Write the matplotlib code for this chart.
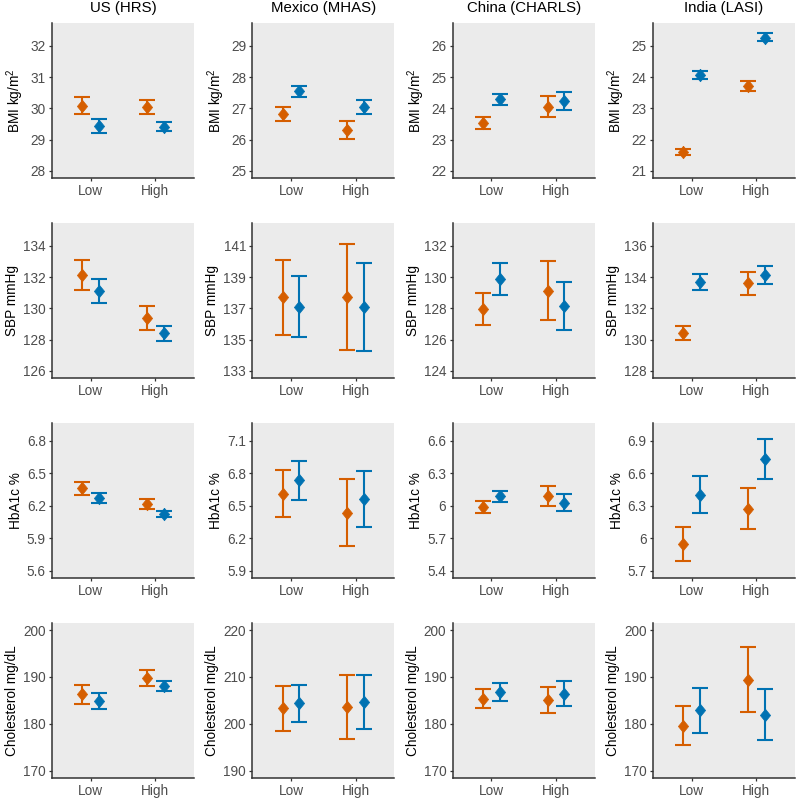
import matplotlib
matplotlib.use("Agg")
import matplotlib.pyplot as plt

plt.rcParams['font.family'] = ['Liberation Sans', 'DejaVu Sans']
plt.rcParams['mathtext.fontset'] = 'custom'
plt.rcParams['mathtext.rm'] = 'Liberation Sans'
plt.rcParams['mathtext.it'] = 'Liberation Sans:italic'

countries = ["US (HRS)", "Mexico (MHAS)", "China (CHARLS)", "India (LASI)"]
groups = ["Low", "High"]
measures = ["BMI kg/m$^2$", "SBP mmHg", "HbA1c %", "Cholesterol mg/dL"]

# y-axis ranges (before 5% padding) and ticks, per measure then country
ylims = [
    [(28, 32.5), (25, 29.5), (22, 26.5), (21, 25.5)],
    [(126, 135), (133, 142), (124, 133), (128, 137)],
    [(5.6, 6.9), (5.9, 7.2), (5.4, 6.7), (5.7, 7.0)],
    [(170, 200), (190, 220), (170, 200), (170, 200)],
]
ystep = [1, 2, 0.3, 10]

# orange series: mean, lower, upper  [country][Low, High]
orange_mean = [
    [[30.07, 30.05], [26.82, 26.31], [23.53, 24.05], [21.60, 23.70]],
    [[132.15, 129.40], [137.70, 137.72], [127.96, 129.13], [130.40, 133.60]],
    [[6.363, 6.218], [6.614, 6.438], [5.988, 6.095], [5.949, 6.275]],
    [[186.3, 189.7], [203.4, 203.6], [185.4, 185.1], [179.6, 189.4]],
]
orange_lo = [
    [[29.81, 29.82], [26.61, 26.02], [23.34, 23.72], [21.50, 23.54]],
    [[131.19, 128.64], [135.32, 134.34], [126.91, 127.28], [129.96, 132.83]],
    [[6.300, 6.172], [6.395, 6.134], [5.932, 6.000], [5.792, 6.085]],
    [[184.3, 188.0], [198.5, 196.7], [183.4, 182.4], [175.6, 182.6]],
]
orange_hi = [
    [[30.35, 30.27], [27.04, 26.60], [23.73, 24.39], [21.70, 23.88]],
    [[133.09, 130.17], [140.09, 141.13], [129.00, 131.00], [130.85, 134.34]],
    [[6.418, 6.265], [6.832, 6.749], [6.043, 6.188], [6.106, 6.466]],
    [[188.4, 191.4], [208.1, 210.4], [187.4, 187.8], [183.8, 196.3]],
]

# blue series
blue_mean = [
    [[29.45, 29.42], [27.55, 27.04], [24.30, 24.23], [24.06, 25.26]],
    [[131.13, 128.40], [137.11, 137.11], [129.87, 128.17], [133.70, 134.11]],
    [[6.270, 6.129], [6.737, 6.562], [6.089, 6.031], [6.405, 6.731]],
    [[184.8, 188.1], [204.4, 204.7], [186.8, 186.4], [182.9, 182.0]],
]
blue_lo = [
    [[29.22, 29.28], [27.37, 26.81], [24.10, 23.96], [23.95, 25.14]],
    [[130.34, 127.89], [135.15, 134.28], [128.85, 126.64], [133.19, 133.55]],
    [[6.225, 6.100], [6.558, 6.306], [6.037, 5.954], [6.232, 6.546]],
    [[183.1, 187.0], [200.5, 199.0], [184.9, 183.9], [178.0, 176.5]],
]
blue_hi = [
    [[29.67, 29.56], [27.71, 27.26], [24.47, 24.52], [24.19, 25.41]],
    [[131.89, 128.87], [139.04, 139.91], [130.89, 129.70], [134.19, 134.68]],
    [[6.320, 6.157], [6.915, 6.823], [6.142, 6.108], [6.577, 6.915]],
    [[186.5, 189.1], [208.4, 210.4], [188.7, 189.1], [187.6, 187.4]],
]

ORANGE = "#D55E00"
BLUE = "#0072B2"
dodge = 0.13
xpos = [1, 2]
# slightly narrow diamond, like ggplot shape 18
diamond = [(0, 1), (0.82, 0), (0, -1), (-0.82, 0), (0, 1)]

fig, axes = plt.subplots(4, 4, figsize=(7.97, 7.99), dpi=100)
fig.subplots_adjust(left=52/797, right=795/797, top=1-23/799, bottom=1-778/799,
                    wspace=0.41, hspace=0.29)

for r in range(4):
    for c in range(4):
        ax = axes[r][c]
        ax.set_facecolor("#EBEBEB")
        for series, col, off in [((orange_mean, orange_lo, orange_hi), ORANGE, -dodge),
                                 ((blue_mean, blue_lo, blue_hi), BLUE, dodge)]:
            m, lo, hi = (s[r][c] for s in series)
            xs = [x + off for x in xpos]
            yerr = [[m[i] - lo[i] for i in range(2)], [hi[i] - m[i] for i in range(2)]]
            ax.errorbar(xs, m, yerr=yerr, fmt='none', ecolor=col,
                        elinewidth=1.5, capsize=5.8, capthick=1.5, zorder=3)
            ax.plot(xs, m, linestyle='none', marker=diamond, ms=9, color=col,
                    mec=col, mew=0.5, zorder=4)
        lo_l, hi_l = ylims[r][c]
        pad = 0.05 * (hi_l - lo_l)
        ax.set_ylim(lo_l - pad, hi_l + pad)
        step = ystep[r]
        n = int(round((hi_l - lo_l) / step)) + 1
        ticks = [lo_l + i * step for i in range(n) if lo_l + i * step <= hi_l + 1e-9]
        ax.set_yticks(ticks)
        if r == 2:
            ax.set_yticklabels([("%.1f" % t).rstrip('0').rstrip('.') for t in ticks])
        else:
            ax.set_yticklabels(["%g" % round(t, 1) for t in ticks])
        ax.set_xlim(0.4, 2.6)
        ax.set_xticks(xpos)
        ax.set_xticklabels(groups)
        for s in ["top", "right"]:
            ax.spines[s].set_visible(False)
        for s in ["left", "bottom"]:
            ax.spines[s].set_color("#333333")
            ax.spines[s].set_linewidth(1.1)
        ax.tick_params(axis='both', length=2.5, width=0.9, color="#333333",
                       labelcolor="#4D4D4D", labelsize=9.8, pad=2)
        ax.set_ylabel(measures[r], fontsize=9.8, color="black", labelpad=3)
        if r == 0:
            ax.set_title(countries[c], fontsize=10.8, pad=8)

fig.savefig("out.png", dpi=100)
